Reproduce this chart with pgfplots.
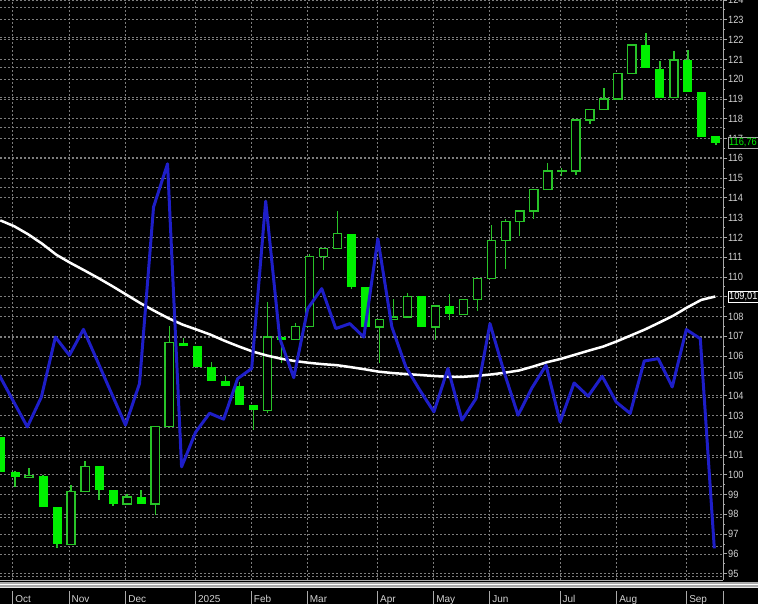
\documentclass[border=0pt]{standalone}
\usepackage{fontspec}
\setmainfont{Liberation Sans}
\newfontfamily\narrowfont[FakeStretch=0.88]{Liberation Sans}
\usepackage{pgfplots}
\usepackage{pgfplotstable}
\pgfplotsset{compat=1.18}

\definecolor{gridgray}{RGB}{125,125,125}
\definecolor{axisgray}{RGB}{170,170,170}
\definecolor{labelgray}{RGB}{210,210,210}
\definecolor{wickgreen}{RGB}{40,195,40}
\definecolor{bodygreen}{RGB}{0,240,0}
\definecolor{lineblue}{RGB}{30,30,200}

% weekly candles, up weeks (hollow)
\pgfplotstableread{
i  o      h      l      c
2  99.88  100.33 99.88  99.96
5  96.49  99.47  96.45  99.17
6  99.17  100.69 99.17  100.43
9  98.52  99.02  98.52  98.87
11 98.52  102.45 97.96  102.45
12 102.45 107.51 102.45 106.68
19 103.26 108.73 103.13 106.96
21 106.83 107.66 106.83 107.51
22 107.51 111.14 107.51 111.04
23 111.04 111.43 110.37 111.43
24 111.43 113.31 111.43 112.19
27 107.47 107.84 105.65 107.84
28 107.84 108.90 107.84 107.97
29 107.97 109.17 107.97 109.02
31 107.47 108.53 106.80 108.53
33 108.11 108.85 108.11 108.85
34 108.85 109.91 108.29 109.91
35 109.91 112.61 109.91 111.85
36 111.85 112.94 110.42 112.81
37 112.81 113.33 112.05 113.33
38 113.33 114.41 112.94 114.41
39 114.41 115.75 114.41 115.35
40 115.34 115.52 115.08 115.36
41 115.36 117.94 115.13 117.94
42 117.94 118.45 117.71 118.45
43 118.45 119.54 118.45 119.00
44 119.00 120.27 119.00 120.27
45 120.27 121.73 120.27 121.73
48 119.06 121.41 119.06 120.97
}\upc

% down weeks (filled)
\pgfplotstableread{
i  o      h      l      c
0  101.90 101.90 100.13 100.13
1  100.13 100.20 99.39  99.88
3  99.96  99.98  98.36  98.36
4  98.36  98.36  96.29  96.49
7  100.43 100.43 98.72  99.22
8  99.22  99.22  98.41  98.52
10 98.87  99.22  98.52  98.52
13 106.68 106.91 106.53 106.53
14 106.53 106.53 105.45 105.45
15 105.45 105.69 104.73 104.73
16 104.73 104.97 104.49 104.49
17 104.49 104.69 103.52 103.52
18 103.52 103.52 102.25 103.26
20 106.96 106.96 105.64 106.83
25 112.19 112.19 109.41 109.49
26 109.49 109.49 107.47 107.47
30 109.02 109.02 107.47 107.47
32 108.53 109.16 107.81 108.11
46 121.73 122.34 120.55 120.55
47 120.52 120.94 119.06 119.06
49 120.97 121.48 119.34 119.34
50 119.37 119.37 117.10 117.10
51 117.10 117.10 116.65 116.76
}\dnc

% moving average (white) and indicator (blue)
\pgfplotstableread{
i  ma     bl
0  112.86 105.03
1  112.56 103.72
2  112.15 102.42
3  111.67 103.93
4  111.12 106.96
5  110.71 106.04
6  110.33 107.35
7  109.94 105.74
8  109.53 104.12
9  109.10 102.51
10 108.67 104.61
11 108.28 113.53
12 107.91 115.72
13 107.59 100.40
14 107.34 102.15
15 107.08 103.11
16 106.77 102.81
17 106.49 104.86
18 106.23 105.37
19 106.03 113.83
20 105.87 106.90
21 105.75 104.91
22 105.66 108.40
23 105.59 109.41
24 105.54 107.39
25 105.44 107.64
26 105.33 106.96
27 105.21 111.93
28 105.14 107.47
29 105.09 105.45
30 105.04 104.27
31 104.99 103.18
32 104.95 105.37
33 104.95 102.76
34 105.00 103.85
35 105.07 107.64
36 105.16 105.20
37 105.27 103.01
38 105.47 104.40
39 105.69 105.54
40 105.86 102.67
41 106.07 104.64
42 106.28 103.97
43 106.48 104.98
44 106.75 103.68
45 107.05 103.10
46 107.35 105.75
47 107.69 105.87
48 108.04 104.44
49 108.46 107.34
50 108.84 106.88
51 109.01 96.28
}\lines

\pgfplotsset{
    candle/.style 2 args={draw=none, mark=none, color=#1,
        error bars/.cd, y dir=both, y explicit, error mark=none,
        error bar style={color=#1, solid, line width=#2}},
}

\begin{document}
\begin{tikzpicture}
\useasboundingbox (0,0) rectangle (758pt,604pt);
\clip (0,0) rectangle (758pt,604pt);
\fill[black] (0,0) rectangle (758pt,604pt);
\begin{axis}[
    at={(0pt,24pt)}, anchor=south west,
    scale only axis, width=723pt, height=580pt,
    xmin=-0.0713, xmax=51.5, ymin=94.68, ymax=124.0,
    axis x line*=bottom, axis y line*=right,
    axis line style={-, draw=axisgray, line width=0.8pt},
    clip mode=individual,
    grid=major,
    major grid style={draw=gridgray, line width=0.7pt, dash pattern=on 2pt off 2pt},
    xtick={0.835,4.85,8.89,13.87,17.85,21.84,26.85,30.86,34.86,39.87,43.91,48.9},
    xticklabels={Oct,Nov,Dec,2025,Feb,Mar,Apr,May,Jun,Jul,Aug,Sep},
    xtick style={draw=none},
    xticklabel style={anchor=north west, inner sep=0pt, xshift=2.5pt, yshift=-11pt,
        font=\fontsize{10}{11}\selectfont, text=labelgray},
    ytick={95,...,124},
    minor y tick num=1,
    tick align=outside,
    ytick style={draw=axisgray, line width=0.8pt},
    major tick length=4pt, minor tick length=2pt,
    yticklabel style={anchor=west, inner sep=0pt, xshift=1pt,
        font=\narrowfont\fontsize{10.5}{12}\selectfont, text=labelgray,
        /pgf/number format/assume math mode=true},
]
% second grid, spaced for the indicator
\pgfplotsinvokeforeach{123.63,122.12,120.60,119.09,117.57,116.06,114.54,113.03,111.51,108.48,106.96,105.45,103.93,102.42,100.90,99.39,97.87,96.36,94.84}{
    \draw[gridgray, line width=0.7pt, dash pattern=on 2pt off 2pt] (axis cs:-0.0713,#1) -- (axis cs:51.5,#1);
}

% wicks
\addplot[candle={wickgreen}{1.4pt}]
    table[x=i, y expr={(\thisrow{h}+\thisrow{l})/2}, y error expr={(\thisrow{h}-\thisrow{l})/2}] {\upc};
\addplot[candle={wickgreen}{1.4pt}]
    table[x=i, y expr={(\thisrow{h}+\thisrow{l})/2}, y error expr={(\thisrow{h}-\thisrow{l})/2}] {\dnc};

% hollow bodies: outline then black inside
\addplot[candle={wickgreen}{9.6pt}]
    table[x=i, y expr={(\thisrow{o}+\thisrow{c})/2}, y error expr={abs(\thisrow{c}-\thisrow{o})/2+0.035}] {\upc};
\addplot[candle={black}{6.8pt}]
    table[x=i, y expr={(\thisrow{o}+\thisrow{c})/2}, y error expr={max(abs(\thisrow{c}-\thisrow{o})/2-0.035,0)}] {\upc};

% filled bodies
\addplot[candle={bodygreen}{9pt}]
    table[x=i, y expr={(\thisrow{o}+\thisrow{c})/2}, y error expr={max(abs(\thisrow{c}-\thisrow{o})/2,0.025)}] {\dnc};

% moving average
\addplot[white, line width=2.5pt, line join=round, mark=none] table[x expr=\thisrow{i}-0.05, y=ma] {\lines};
% indicator
\addplot[lineblue, line width=3pt, line join=round, mark=none] table[x expr=\thisrow{i}-0.12, y=bl] {\lines};

% separators in the date strip
\pgfplotsinvokeforeach{0.835,4.85,8.89,13.87,17.85,21.84,26.85,30.86,34.86,39.87,43.91,48.9,51.5}{
    \draw[axisgray, line width=0.8pt] (axis cs:#1,94.68) ++(0pt,-11pt) -- ++(0pt,-14pt);
}

\coordinate (last) at (axis cs:51.5,116.8);
\coordinate (avg) at (axis cs:51.5,109.01);
\end{axis}
% last values, over the tick labels
\node[anchor=west, draw=axisgray, fill=black, inner sep=1pt, text=bodygreen,
    font=\narrowfont\fontsize{10.5}{12}\selectfont, xshift=5pt] at (last) {116,76};
\node[anchor=west, draw=white, fill=black, inner sep=1pt, text=white,
    font=\narrowfont\fontsize{10.5}{12}\selectfont, xshift=5pt] at (avg) {109,01};
% band between chart and dates
\fill[axisgray] (0,16pt) rectangle (758pt,21.5pt);
\draw[white, line width=1.5pt] (0,19.5pt) -- (758pt,19.5pt);
\draw[white!80!gray, line width=1pt] (0,16pt) -- (758pt,16pt);
\end{tikzpicture}
\end{document}
